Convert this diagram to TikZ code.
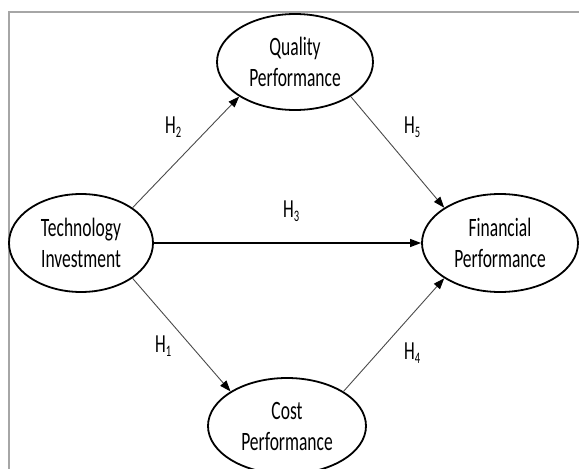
\documentclass[tikz,border=0pt]{standalone}
\usepackage{fontspec}
\setmainfont{Carlito}[FakeStretch=0.66]
\usetikzlibrary{shapes.geometric,arrows.meta}
\definecolor{framegray}{HTML}{A6A6A6}
\definecolor{linkgray}{HTML}{4A4A4A}
% hypothesis label: H with a lowered index
\newcommand{\hyplabel}[1]{H\raisebox{-4.5pt}{\fontsize{16}{16}\selectfont #1}}
\begin{document}
\begin{tikzpicture}[x=1pt,y=-1pt,
  construct/.style={ellipse, draw=black, line width=1.8pt, inner sep=0pt,
    align=center, font=\fontsize{26.5}{31}\selectfont},
  link/.style={draw=linkgray, line width=0.9pt,
    -{Triangle[length=11pt,width=8pt,color=black]}},
  mainlink/.style={draw=black, line width=1.2pt,
    -{Triangle[length=11pt,width=8pt]}},
  hyp/.style={font=\fontsize{26}{31}\selectfont, inner sep=0pt, anchor=base west}]
\useasboundingbox (0,0) rectangle (579,469);
\clip (0,0) rectangle (579,469);

% frame
\draw[framegray, line width=2.2pt] (9,470) -- (9,12) -- (580,12);

% constructs
\node[construct, minimum width=144pt, minimum height=98pt] (tech) at (81,243) {Technology\\Investment};
\node[construct, minimum width=156pt, minimum height=96pt] (qual) at (295,62) {Quality\\Performance};
\node[construct, minimum width=158pt, minimum height=96pt] (cost) at (287,426) {Cost\\Performance};
\node[construct, minimum width=156pt, minimum height=98pt] (fin) at (500,243) {Financial\\Performance};

% hypothesised paths
\draw[link] (tech.north east) -- (qual.south west);
\draw[link] (qual.south east) -- (fin.north west);
\draw[link] (tech.south east) -- (cost.north west);
\draw[link] (cost.north east) -- (fin.south west);
\draw[mainlink] (tech.east) -- (fin.west);

% labels
\node[hyp] (h2) at (165,133) {\hyplabel{2}};
\node[hyp] (h5) at (404,133) {\hyplabel{5}};
\node[hyp] (h3) at (283,217) {\hyplabel{3}};
\node[hyp] (h1) at (155,352) {\hyplabel{1}};
\node[hyp] (h4) at (404,359) {\hyplabel{4}};
\end{tikzpicture}
\end{document}
